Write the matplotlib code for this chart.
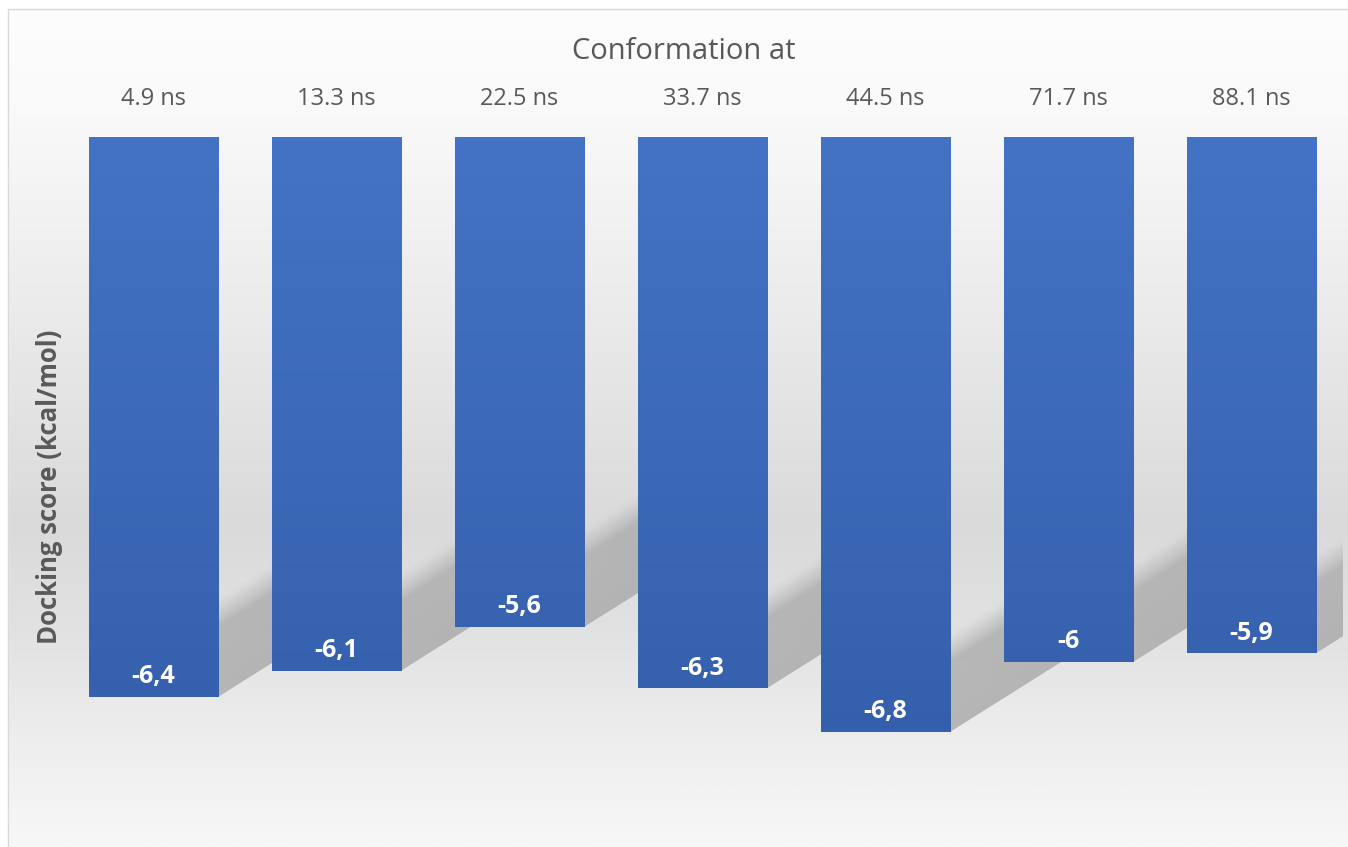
import numpy as np
import matplotlib
matplotlib.use("Agg")
import matplotlib.pyplot as plt
from matplotlib.patches import Polygon, Rectangle
from matplotlib.colors import LinearSegmentedColormap

plt.rcParams['font.family'] = ['Open Sans', 'DejaVu Sans']

# data
times = ['4.9 ns', '13.3 ns', '22.5 ns', '33.7 ns', '44.5 ns', '71.7 ns', '88.1 ns']
scores = [-6.4, -6.1, -5.6, -6.3, -6.8, -6.0, -5.9]
score_labels = ['-6,4', '-6,1', '-5,6', '-6,3', '-6,8', '-6', '-5,9']

W, H = 1348, 847
fig = plt.figure(figsize=(W / 100, H / 100), dpi=100)

# background gradient (white -> grey -> light)
bg = fig.add_axes([0, 0, 1, 1], zorder=-10)
bg_cmap = LinearSegmentedColormap.from_list('bg', [
    (0.0, '#fdfdfd'), (0.12, '#fafafa'), (0.35, '#ececec'),
    (0.62, '#dadada'), (0.75, '#e2e2e2'), (0.88, '#eeeeee'), (1.0, '#f7f7f7')])
grad = np.linspace(0, 1, 400).reshape(-1, 1)
bg.imshow(grad, aspect='auto', cmap=bg_cmap, extent=[0, 1, 0, 1], origin='upper')
bg.add_patch(Rectangle((0, 0), 8 / W, 1, color='white', zorder=2))
bg.add_patch(Rectangle((0, 1 - 9 / H), 1, 9 / H, color='white', zorder=2))
bg.plot([8 / W, 8 / W, 1], [0, 1 - 9 / H, 1 - 9 / H], color='#d9d9d9', lw=1, zorder=3)
bg.set_xlim(0, 1)
bg.set_ylim(0, 1)
bg.axis('off')

# main axes
left, right, top, bottom = 62, 1343, 137, 837
ax = fig.add_axes([left / W, (H - bottom) / H, (right - left) / W, (bottom - top) / H])
ax.patch.set_visible(False)
x = np.arange(len(times))
width = 0.705

# px -> data scales
px_x = len(times) / (right - left)
px_y = 8 / (bottom - top)

# soft shadows cast up-right from each bar's bottom
slope = 0.63 * px_y / px_x
thick = 100 * px_y
run = 0.8
shadow_cmap = LinearSegmentedColormap.from_list('sh', [
    (0.0, (0.66, 0.66, 0.66, 0.8)), (0.7, (0.67, 0.67, 0.67, 0.78)),
    (0.88, (0.72, 0.72, 0.72, 0.35)), (1.0, (0.8, 0.8, 0.8, 0.0))])
for xi, s in zip(x, scores):
    r = xi + width / 2
    poly = Polygon([(r, s), (r + run, s + run * slope),
                    (r + run, s + run * slope + thick), (r, s + thick)],
                   closed=True, facecolor='none', edgecolor='none', zorder=1)
    ax.add_patch(poly)
    gx = np.linspace(r, r + run, 120)
    gy = np.linspace(s, s + run * slope + thick, 200)
    GX, GY = np.meshgrid(gx, gy)
    frac = np.clip((GY - (s + (GX - r) * slope)) / thick, 0, 1)
    im = ax.imshow(frac, cmap=shadow_cmap, vmin=0, vmax=1, aspect='auto',
                   extent=[gx[0], gx[-1], gy[0], gy[-1]], origin='lower',
                   zorder=1, interpolation='bilinear')
    im.set_clip_path(poly)

bars = ax.bar(x, scores, width=width, color='#3d68b8', zorder=3)
bar_cmap = LinearSegmentedColormap.from_list('bar', ['#4473c5', '#325ca8'])
for b in bars:
    bx, bw = b.get_x(), b.get_width()
    im = ax.imshow(np.linspace(0, 1, 200).reshape(-1, 1), cmap=bar_cmap, aspect='auto',
                   extent=[bx, bx + bw, -8, 0], origin='upper', zorder=3.1)
    im.set_clip_path(b)
ax.set_xlim(-0.5, len(times) - 0.5)
ax.set_ylim(-8, 0)

for xi, s, lab in zip(x, scores, score_labels):
    ax.annotate(lab, (xi, s), xytext=(0, 14.5), textcoords='offset points',
                ha='center', va='center', color='white', fontsize=18,
                fontweight='bold', zorder=5)

ax.xaxis.tick_top()
ax.set_xticks(x)
ax.set_xticklabels(times, fontsize=17, color='#595959')
ax.tick_params(axis='x', length=0, pad=19)
ax.set_yticks([])
ax.xaxis.set_label_position('top')
ax.set_xlabel('Conformation at', fontsize=21, color='#595959', labelpad=20,
              x=(684 - left) / (right - left))
ax.set_ylabel('Docking score (kcal/mol)', fontsize=18.5, fontweight='bold',
              color='#595959', labelpad=-1)
for sp in ax.spines.values():
    sp.set_visible(False)

fig.savefig('out.png', dpi=100)
